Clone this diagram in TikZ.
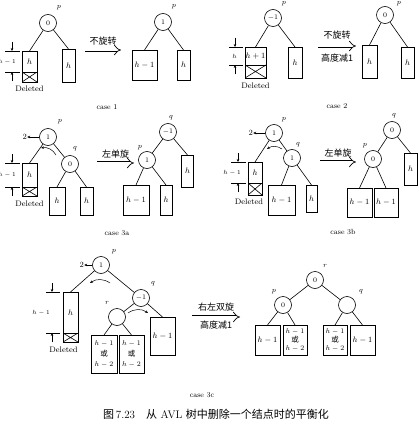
\documentclass[tikz,border=0pt]{standalone}
\usepackage{fontspec}
\newfontfamily\cjk{Noto Sans CJK SC}
\usepackage{tikz}
\usetikzlibrary{positioning, arrows.meta}

\begin{document}
\begin{tikzpicture}[
    x=1pt, y=-1pt, line width=0.6pt,
    avlnode/.style={circle, draw, minimum size=17pt, inner sep=0pt, font=\scriptsize},
    subtree/.style 2 args={rectangle, draw, minimum width=#1, minimum height=#2, inner sep=0pt, outer sep=0pt, align=center, font=\footnotesize},
    gone/.style 2 args={subtree={#1}{#2}, path picture={\draw (path picture bounding box.north west) -- (path picture bounding box.south east) (path picture bounding box.south west) -- (path picture bounding box.north east);}},
    split/.style={font=\fontsize{7.5}{#1}\selectfont},
    tag/.style={font=\scriptsize, inner sep=0pt},
    note/.style={font=\footnotesize, inner sep=0pt},
    dimlabel/.style={font=\fontsize{6.5}{8}\selectfont, inner sep=0pt},
    caselabel/.style={font=\fontsize{7.5}{9}\selectfont},
    cjklabel/.style={font=\fontsize{9}{10}\selectfont\cjk, inner sep=0pt},
    move/.style={double, line width=0.7pt, double distance=3pt, -{Implies}},
    dimtip/.style={line width=0.5pt, -{Stealth[length=3pt, width=2.6pt]}},
    turn/.style={line width=0.5pt, -{Stealth[length=3pt, width=2.6pt]}}
]
\useasboundingbox (0,0) rectangle (419,428);

% case 1, before
\node[avlnode] (p1) at (48,23) {0};
\node[tag] (p1t) at (59,8) {$p$};
\node[subtree={15pt}{21pt}] (l1) at (29.5,61.5) {$h$};
\node[gone={15pt}{10pt}, below=0pt of l1] (x1) {};
\node[subtree={13pt}{33pt}] (r1) at (68.5,65.5) {$h$};
\node[note, below=4pt of x1] (d1) {Deleted};
\draw (p1) -- (l1.north);
\draw (p1) -- (r1.north);
\draw ([xshift=-2pt]l1.north west) -- ++(-15,0);
\draw ([xshift=-2pt]l1.south west) -- ++(-15,0);
\draw[dimtip] ([xshift=-10pt, yshift=9pt]l1.north west) -- ([xshift=-10pt]l1.north west);
\draw[dimtip] ([xshift=-10pt, yshift=-9pt]l1.south west) -- ([xshift=-10pt]l1.south west);
\node[dimlabel, left=6pt of l1] (h1) {$h-1$};

% case 1, no rotation
\coordinate (m1a) at (85,50);
\coordinate (m1b) at (121,50);
\draw[move] (m1a) -- node[cjklabel, above=4pt] (m1t) {不旋转} (m1b);

% case 1, after
\node[avlnode] (p1n) at (163,22) {1};
\node[tag] (p1nt) at (174,7) {$p$};
\node[subtree={25pt}{30pt}] (l1n) at (144.5,65) {$h-1$};
\node[subtree={13pt}{30pt}] (r1n) at (183.5,65) {$h$};
\draw (p1n) -- (l1n.north);
\draw (p1n) -- (r1n.north);
\node[caselabel] (c1) at (107,107) {case 1};

% case 2, before
\node[avlnode] (p2) at (273,18) {$-1$};
\node[tag] (p2t) at (284,4) {$p$};
\node[subtree={21pt}{18pt}] (l2) at (255.5,56) {$h+1$};
\node[gone={21pt}{13pt}, below=0pt of l2] (x2) {};
\node[subtree={14pt}{31pt}] (r2) at (295,62.5) {$h$};
\node[note, below=5pt of x2] (d2) {Deleted};
\draw (p2) -- (l2.north);
\draw (p2) -- (r2.north);
\draw ([xshift=-2pt]l2.north west) -- ++(-14,0);
\draw ([xshift=-2pt]l2.south west) -- ++(-14,0);
\draw[dimtip] ([xshift=-10pt, yshift=9pt]l2.north west) -- ([xshift=-10pt]l2.north west);
\draw[dimtip] ([xshift=-10pt, yshift=-9pt]l2.south west) -- ([xshift=-10pt]l2.south west);
\node[dimlabel, left=8pt of l2] (h2) {$h$};

% case 2, no rotation, height minus 1
\coordinate (m2a) at (318,46);
\coordinate (m2b) at (356,46);
\draw[move] (m2a) -- node[cjklabel, above=6pt] (m2t) {不旋转} node[cjklabel, below=8pt] (m2u) {高度减1} (m2b);

% case 2, after
\node[avlnode] (p2n) at (385,15) {0};
\node[tag] (p2nt) at (399,4) {$p$};
\node[subtree={15pt}{33pt}] (l2n) at (369.5,61.5) {$h$};
\node[subtree={13pt}{31pt}] (r2n) at (407.5,62.5) {$h$};
\draw (p2n) -- (l2n.north);
\draw (p2n) -- (r2n.north);
\node[caselabel] (c2) at (337,106) {case 2};

% case 3a, before
\node[avlnode] (p3a) at (48,137) {1};
\node[tag] (p3at) at (60,122) {$p$};
\node[note, left=12pt of p3a] (w3a) {2};
\draw[dimtip] (p3a) -- (w3a);
\node[avlnode] (q3a) at (70,164) {0};
\node[tag] (q3at) at (75,149) {$q$};
\node[subtree={15pt}{24pt}] (l3a) at (29.5,175) {$h$};
\node[gone={15pt}{9pt}, below=0pt of l3a] (x3a) {};
\node[subtree={16pt}{28pt}] (s3a) at (57,201) {$h$};
\node[subtree={13pt}{28pt}] (r3a) at (86.5,201) {$h$};
\node[note, below=5pt of x3a] (d3a) {Deleted};
\draw (p3a) -- (l3a.north);
\draw (p3a) -- (q3a);
\draw (q3a) -- (s3a.north);
\draw (q3a) -- (r3a.north);
\coordinate (u3a) at (56,155);
\coordinate (v3a) at (41,148);
\draw[turn] (u3a) to[bend right=35] (v3a);
\draw ([xshift=-2pt]l3a.north west) -- ++(-15,0);
\draw ([xshift=-2pt]l3a.south west) -- ++(-15,0);
\draw[dimtip] ([xshift=-10pt, yshift=9pt]l3a.north west) -- ([xshift=-10pt]l3a.north west);
\draw[dimtip] ([xshift=-10pt, yshift=-9pt]l3a.south west) -- ([xshift=-10pt]l3a.south west);
\node[dimlabel, left=6pt of l3a] (h3a) {$h-1$};

% case 3a, single rotation to the left
\coordinate (m3a) at (97,163);
\coordinate (n3a) at (134,163);
\draw[move] (m3a) -- node[cjklabel, above=4pt] (m3at) {左单旋} (n3a);

% case 3a, after
\node[avlnode] (q3an) at (168,132) {$-1$};
\node[tag] (q3ant) at (171,118) {$q$};
\node[avlnode] (p3an) at (147,160) {1};
\node[tag] (p3ant) at (140,148) {$p$};
\node[subtree={12pt}{32pt}] (r3an) at (187.5,171) {$h$};
\node[subtree={26pt}{30pt}] (l3an) at (136,200) {$h-1$};
\node[subtree={12pt}{30pt}] (s3an) at (166,200) {$h$};
\draw (q3an) -- (p3an);
\draw (q3an) -- (r3an.north);
\draw (p3an) -- (l3an.north);
\draw (p3an) -- (s3an.north);
\node[caselabel] (c3a) at (117,233) {case 3a};

% case 3b, before
\node[avlnode] (p3b) at (274,133) {1};
\node[tag] (p3bt) at (284,120) {$p$};
\node[note, left=12pt of p3b] (w3b) {2};
\draw[dimtip] (p3b) -- (w3b);
\node[avlnode] (q3b) at (292,158) {1};
\node[tag] (q3bt) at (298,145) {$q$};
\node[subtree={14pt}{21pt}] (l3b) at (255,172.5) {$h$};
\node[gone={14pt}{12pt}, below=0pt of l3b] (x3b) {};
\node[subtree={27pt}{30pt}] (s3b) at (281.5,200) {$h-1$};
\node[subtree={11pt}{27pt}] (r3b) at (311.5,198.5) {$h$};
\node[note, below=4pt of x3b, xshift=-6pt] (d3b) {Deleted};
\draw (p3b) -- (l3b.north);
\draw (p3b) -- (q3b);
\draw (q3b) -- (s3b.north);
\draw (q3b) -- (r3b.north);
\coordinate (u3b) at (282,149);
\coordinate (v3b) at (267,149);
\draw[turn] (u3b) to[bend right=35] (v3b);
\draw ([xshift=-2pt]l3b.north west) -- ++(-15,0);
\draw ([xshift=-2pt]l3b.south west) -- ++(-15,0);
\draw[dimtip] ([xshift=-10pt, yshift=9pt]l3b.north west) -- ([xshift=-10pt]l3b.north west);
\draw[dimtip] ([xshift=-10pt, yshift=-9pt]l3b.south west) -- ([xshift=-10pt]l3b.south west);
\node[dimlabel, left=7pt of l3b] (h3b) {$h-1$};

% case 3b, single rotation to the left
\coordinate (m3b) at (320,162);
\coordinate (n3b) at (356,162);
\draw[move] (m3b) -- node[cjklabel, above=4pt] (m3bt) {左单旋} (n3b);

% case 3b, after
\node[avlnode] (q3bn) at (392,130) {0};
\node[tag] (q3bnt) at (394,116) {$q$};
\node[avlnode] (p3bn) at (373,159) {0};
\node[tag] (p3bnt) at (365,146) {$p$};
\node[subtree={13pt}{32pt}] (r3bn) at (410.5,169) {$h$};
\node[subtree={25pt}{29pt}] (l3bn) at (359.5,202.5) {$h-1$};
\node[subtree={24pt}{29pt}] (s3bn) at (386,202.5) {$h-1$};
\draw (q3bn) -- (p3bn);
\draw (q3bn) -- (r3bn.north);
\draw (p3bn) -- (l3bn.north);
\draw (p3bn) -- (s3bn.north);
\node[caselabel] (c3b) at (343,232) {case 3b};

% case 3c, before
\node[avlnode] (p3c) at (101,265) {1};
\node[tag] (p3ct) at (114,252) {$p$};
\node[note, left=8pt of p3c] (w3c) {2};
\draw[dimtip] (p3c) -- (w3c);
\node[avlnode] (q3c) at (141,298) {$-1$};
\node[tag] (q3ct) at (153,284) {$q$};
\node[avlnode] (r3c) at (117,317) {};
\node[tag] (r3ct) at (107,303) {$r$};
\node[subtree={15pt}{41pt}] (l3c) at (70.5,312.5) {$h$};
\node[gone={15pt}{9pt}, below=0pt of l3c] (x3c) {};
\node[subtree={26pt}{38pt}, split=10.5pt] (a3c) at (104,354) {$h-1$\\{\cjk 或}\\$h-2$};
\node[subtree={25pt}{38pt}, split=10.5pt] (b3c) at (131.5,354) {$h-1$\\{\cjk 或}\\$h-2$};
\node[subtree={25pt}{38pt}] (s3c) at (162.5,336) {$h-1$};
\node[note, below=5pt of x3c, xshift=-7pt] (d3c) {Deleted};
\draw (p3c) -- (l3c.north);
\draw (p3c) -- (q3c);
\draw (q3c) -- (r3c);
\draw (q3c) -- (s3c.north);
\draw (r3c) -- (a3c.north);
\draw (r3c) -- (b3c.north);
\coordinate (u3c) at (110,283);
\coordinate (v3c) at (90,283);
\draw[turn] (u3c) to[bend right=35] (v3c);
\coordinate (y3c) at (128,313);
\coordinate (z3c) at (148,313);
\draw[turn] (y3c) to[bend left=35] (z3c);
\draw ([xshift=-3pt]l3c.north west) -- ++(-14,0);
\draw ([xshift=-3pt]l3c.south west) -- ++(-14,0);
\draw[dimtip] ([xshift=-11pt, yshift=9pt]l3c.north west) -- ([xshift=-11pt]l3c.north west);
\draw[dimtip] ([xshift=-11pt, yshift=-9pt]l3c.south west) -- ([xshift=-11pt]l3c.south west);
\node[dimlabel, left=13pt of l3c] (h3c) {$h-1$};

% case 3c, double rotation right then left
\coordinate (m3c) at (192,317);
\coordinate (n3c) at (240,317);
\draw[move] (m3c) -- node[cjklabel, above=5pt] (m3ct) {右左双旋} node[cjklabel, below=4pt] (m3cu) {高度减1} (n3c);

% case 3c, after
\node[avlnode] (r3cn) at (315,280) {0};
\node[tag] (r3cnt) at (325,266) {$r$};
\node[avlnode] (p3cn) at (283,305) {0};
\node[tag] (p3cnt) at (274,292) {$p$};
\node[avlnode] (q3cn) at (347,305) {};
\node[tag] (q3cnt) at (361,292) {$q$};
\node[subtree={25pt}{30pt}] (a3cn) at (267.5,340) {$h-1$};
\node[subtree={24pt}{30pt}, split=8.5pt] (b3cn) at (295,340) {$h-1$\\{\cjk 或}\\$h-2$};
\node[subtree={24pt}{30pt}, split=8.5pt] (c3cn) at (335,340) {$h-1$\\{\cjk 或}\\$h-2$};
\node[subtree={25pt}{30pt}] (d3cn) at (362.5,340) {$h-1$};
\draw (r3cn) -- (p3cn);
\draw (r3cn) -- (q3cn);
\draw (p3cn) -- (a3cn.north);
\draw (p3cn) -- (b3cn.north);
\draw (q3cn) -- (c3cn.north);
\draw (q3cn) -- (d3cn.north);
\node[caselabel] (c3c) at (202,395) {case 3c};

% caption
\node[font=\fontsize{11}{13}\selectfont] (cap) at (216,414) {{\cjk 图}\,7.23\quad{\cjk 从}~AVL~{\cjk 树中删除一个结点时的平衡化}};

\end{tikzpicture}
\end{document}
